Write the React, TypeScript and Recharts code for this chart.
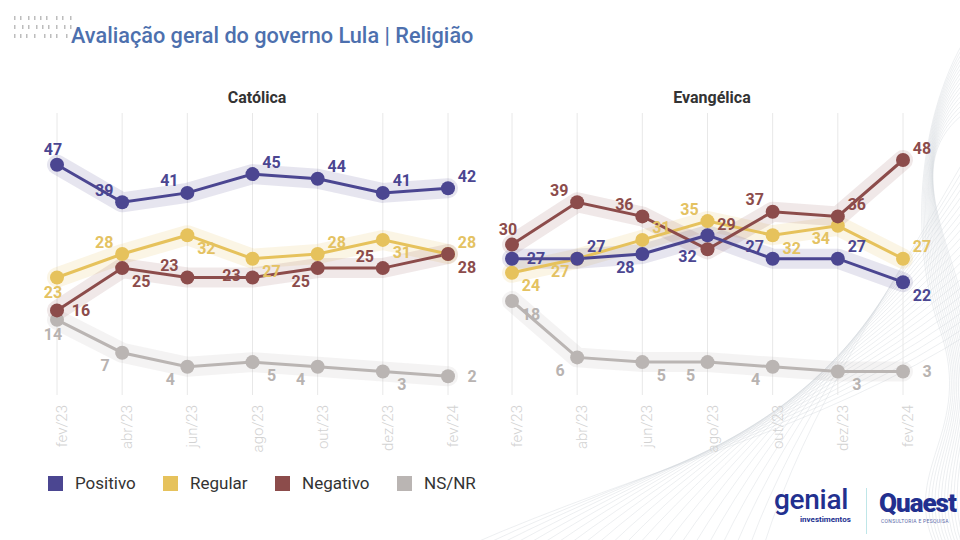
import React from 'react';
import { LineChart, Line, XAxis, YAxis, CartesianGrid, LabelList } from 'recharts';

// ---------- data ----------
const months = ['fev/23', 'abr/23', 'jun/23', 'ago/23', 'out/23', 'dez/23', 'fev/24'];

const catPositivo = [47, 39, 41, 45, 44, 41, 42];
const catRegular = [23, 28, 32, 27, 28, 31, 28];
const catNegativo = [16, 25, 23, 23, 25, 25, 28];
const catNsnr = [14, 7, 4, 5, 4, 3, 2];

const evaPositivo = [27, 27, 28, 32, 27, 27, 22];
const evaRegular = [24, 27, 31, 35, 32, 34, 27];
const evaNegativo = [30, 39, 36, 29, 37, 36, 48];
const evaNsnr = [18, 6, 5, 5, 4, 3, 3];

const seriesNames = ['Positivo', 'Regular', 'Negativo', 'NS/NR'];

// label placements (t, b, l, r, tl, tr, tr2, bl, br)
const catPosPlace = ['t', 'tl', 'tl', 'tr', 'tr', 'tr', 'tr'];
const catRegPlace = ['b', 'tl', 'br', 'br', 'tr', 'br', 'tr'];
const catNegPlace = ['r', 'br', 'tl', 'l', 'bl', 'tl', 'br'];
const catNsPlace = ['b', 'bl', 'bl', 'br', 'bl', 'br', 'r'];

const evaPosPlace = ['r', 'tr', 'bl', 'bl2', 'tl', 'tr', 'br'];
const evaRegPlace = ['br', 'bl', 'tr', 'tl', 'br', 'bl', 'tr'];
const evaNegPlace = ['t', 'tl', 'tl', 'tr2', 'tl', 'tr', 'tr'];
const evaNsPlace = ['br', 'bl', 'br', 'bl', 'bl', 'br', 'r'];

// ---------- styles ----------
const COLORS = {
  pos: '#4b4691',
  reg: '#e6c25c',
  neg: '#8c4c4b',
  ns: '#bab5b3',
};
const LABEL_COLORS = {
  pos: '#4b4691',
  reg: '#e4c262',
  neg: '#8c4c4b',
  ns: '#b8b3b1',
};
const BAND_OPACITY = { pos: 0.14, reg: 0.16, neg: 0.13, ns: 0.16 };

const OFF: Record<string, [number, number]> = {
  t: [-4, -15],
  b: [-4, 15],
  l: [-21, -2],
  r: [24, 0],
  tl: [-18, -12],
  tr: [19, -12],
  tr2: [19, -25],
  bl: [-17, 13],
  bl2: [-20, 21],
  br: [19, 13],
};

const FONT = 'Roboto, "Noto Sans", sans-serif';

const buildRows = (p: number[], r: number[], n: number[], s: number[]) =>
  months.map((m, i) => ({ m, pos: p[i], reg: r[i], neg: n[i], ns: s[i] }));

const catRows = buildRows(catPositivo, catRegular, catNegativo, catNsnr);
const evaRows = buildRows(evaPositivo, evaRegular, evaNegativo, evaNsnr);

const makeLabel = (place: string[], color: string) => (props: any) => {
  const { x, y, value, index } = props;
  const [dx, dy] = OFF[place[index]] || [0, -14];
  return (
    <text
      x={x + dx}
      y={y + dy}
      fill={color}
      fontSize={16}
      fontWeight={700}
      fontFamily={FONT}
      textAnchor="middle"
      dominantBaseline="central"
    >
      {value}
    </text>
  );
};

const MonthTick = (props: any) => {
  const { x, y, payload } = props;
  return (
    <text
      transform={`translate(${x + 5},${y + 2}) rotate(-90)`}
      textAnchor="end"
      dominantBaseline="central"
      fill="#d2d2d2"
      fontSize={15}
      fontWeight={300}
      fontFamily={FONT}
    >
      {payload.value}
    </text>
  );
};

type Places = { pos: string[]; reg: string[]; neg: string[]; ns: string[] };

const Panel = ({ rows, places, left }: { rows: any[]; places: Places; left: number }) => {
  const order: (keyof typeof COLORS)[] = ['ns', 'reg', 'neg', 'pos'];
  return (
    <div style={{ position: 'absolute', left, top: 0 }}>
      <LineChart
        width={480}
        height={460}
        data={rows}
        margin={{ top: 113, right: 32, left: 57, bottom: 0 }}
      >
        <CartesianGrid vertical horizontal={false} stroke="#e8e8e8" strokeWidth={1} />
        <XAxis
          dataKey="m"
          height={65}
          axisLine={false}
          tickLine={false}
          interval={0}
          tick={<MonthTick />}
        />
        <YAxis hide domain={[-2, 58]} />
        {order.map((k) => (
          <Line
            key={'band-' + k}
            dataKey={k}
            type="linear"
            stroke={COLORS[k]}
            strokeOpacity={BAND_OPACITY[k]}
            strokeWidth={20}
            strokeLinejoin="round"
            strokeLinecap="round"
            dot={false}
            activeDot={false}
            isAnimationActive={false}
            legendType="none"
          />
        ))}
        {order.map((k) => (
          <Line
            key={'line-' + k}
            dataKey={k}
            type="linear"
            stroke={COLORS[k]}
            strokeWidth={3}
            dot={{ r: 7, fill: COLORS[k], stroke: COLORS[k], strokeWidth: 0 }}
            activeDot={false}
            isAnimationActive={false}
          >
            <LabelList dataKey={k} content={makeLabel(places[k], LABEL_COLORS[k])} />
          </Line>
        ))}
      </LineChart>
    </div>
  );
};

const Decoration = () => {
  const a: string[] = [];
  for (let i = 0; i < 22; i++) {
    a.push(
      `M ${470 + i * 14} 545 C ${640 + i * 8} ${470 - i * 3}, ${820 + i * 3} ${430 - i * 6}, ${975} ${330 - i * 9}`
    );
  }
  const b: string[] = [];
  for (let i = 0; i < 16; i++) {
    b.push(
      `M ${985} ${10 + i * 6} C ${920 - i * 2} ${90 + i * 4}, ${905 + i * 3} ${230}, ${940 + i * 2} ${330} S ${900 + i * 4} ${470}, ${935 + i * 3} ${545}`
    );
  }
  const rows = [
    [14, 20, 28, 34, 40, 46, 56, 62, 70],
    [14, 22, 28, 36, 42, 48, 56, 64, 70],
    [14, 20, 26, 34, 44, 50, 56, 66],
  ];
  return (
    <svg width={960} height={540} style={{ position: 'absolute', left: 0, top: 0 }}>
      {a.map((d, i) => (
        <path key={'a' + i} d={d} fill="none" stroke="#cdd2d8" strokeWidth={0.6} opacity={0.6} />
      ))}
      {b.map((d, i) => (
        <path key={'b' + i} d={d} fill="none" stroke="#cdd2d8" strokeWidth={0.6} opacity={0.6} />
      ))}
      {rows.map((r, ri) =>
        r.map((x, xi) => (
          <rect key={`d${ri}-${xi}`} x={x} y={16 + ri * 9} width={1.5} height={4} fill="#bdbdbd" />
        ))
      )}
    </svg>
  );
};

const legendItems = [
  { name: seriesNames[0], color: COLORS.pos, left: 48 },
  { name: seriesNames[1], color: COLORS.reg, left: 163 },
  { name: seriesNames[2], color: COLORS.neg, left: 275 },
  { name: seriesNames[3], color: COLORS.ns, left: 397 },
];

export default function App() {
  return (
    <div
      style={{
        position: 'absolute',
        left: 0,
        top: 0,
        width: 960,
        height: 540,
        overflow: 'hidden',
        background: '#ffffff',
        fontFamily: FONT,
      }}
    >
      <Decoration />
      <div
        style={{
          position: 'absolute',
          left: 71,
          top: 23,
          fontSize: 21.7,
          fontWeight: 500,
          color: '#4d70ae',
          whiteSpace: 'nowrap',
        }}
      >
        Avaliação geral do governo Lula | Religião
      </div>
      <div style={{ position: 'absolute', left: 157, width: 200, top: 88, textAlign: 'center', fontSize: 16, fontWeight: 700, color: '#333' }}>
        Católica
      </div>
      <div style={{ position: 'absolute', left: 612, width: 200, top: 88, textAlign: 'center', fontSize: 16, fontWeight: 700, color: '#333' }}>
        Evangélica
      </div>
      <Panel rows={catRows} places={{ pos: catPosPlace, reg: catRegPlace, neg: catNegPlace, ns: catNsPlace }} left={0} />
      <Panel rows={evaRows} places={{ pos: evaPosPlace, reg: evaRegPlace, neg: evaNegPlace, ns: evaNsPlace }} left={455} />
      {legendItems.map((it) => (
        <div key={it.name} style={{ position: 'absolute', left: it.left, top: 473, display: 'flex', alignItems: 'center' }}>
          <div style={{ width: 15, height: 15, background: it.color }} />
          <div style={{ marginLeft: 12, fontSize: 17, color: '#333', lineHeight: '20px' }}>{it.name}</div>
        </div>
      ))}
      <div style={{ position: 'absolute', left: 774, top: 487, fontSize: 28, fontWeight: 500, color: '#22308f', lineHeight: '26px', letterSpacing: -0.3 }}>
        genial
      </div>
      <div style={{ position: 'absolute', left: 800, top: 515, fontSize: 8, fontWeight: 700, color: '#22308f', lineHeight: '9px' }}>investimentos</div>
      <div style={{ position: 'absolute', left: 866, top: 488, width: 1, height: 46, background: '#bfe6e8' }} />
      <div style={{ position: 'absolute', left: 879, top: 490, fontSize: 26, fontWeight: 900, color: '#22308f', lineHeight: '26px', letterSpacing: -1 }}>
        Quaest
      </div>
      <div style={{ position: 'absolute', left: 881, top: 518, fontSize: 5, color: '#5b6aa8', letterSpacing: 0.3, whiteSpace: 'nowrap', lineHeight: '6px' }}>
        CONSULTORIA E PESQUISA
      </div>
    </div>
  );
}
